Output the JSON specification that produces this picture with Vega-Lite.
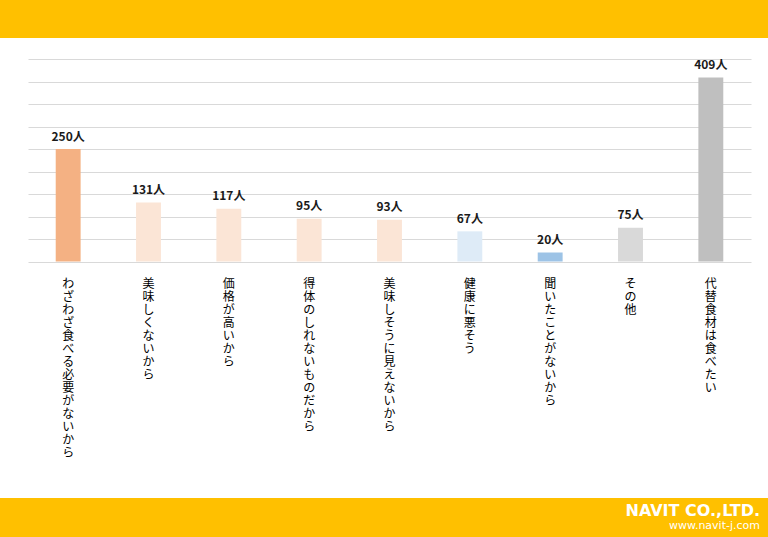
{
  "$schema": "https://vega.github.io/schema/vega-lite/v6.json",
  "background": "white",
  "padding": 0,
  "spacing": 20,
  "config": {
    "view": {"stroke": null},
    "font": "Noto Sans CJK JP"
  },
  "vconcat": [
    {
      "width": 768,
      "height": 38,
      "data": {"values": [{}]},
      "mark": {"type": "rect", "color": "#FFC000"},
      "encoding": {}
    },
    {
      "spacing": 0,
      "hconcat": [
        {
          "width": 28,
          "height": 202.5,
          "data": {"values": [{}]},
          "mark": {"type": "rect", "color": "white", "opacity": 0},
          "encoding": {}
        },
        {
          "width": 723,
          "height": 202.5,
          "data": {
            "values": [
              {"reason": "わざわざ食べる必要がないから", "value": 250},
              {"reason": "美味しくないから", "value": 131},
              {"reason": "価格が高いから", "value": 117},
              {"reason": "得体のしれないものだから", "value": 95},
              {"reason": "美味しそうに見えないから", "value": 93},
              {"reason": "健康に悪そう", "value": 67},
              {"reason": "聞いたことがないから", "value": 20},
              {"reason": "その他", "value": 75},
              {"reason": "代替食材は食べたい", "value": 409}
            ]
          },
          "encoding": {
            "x": {
              "field": "reason",
              "type": "nominal",
              "sort": null,
              "scale": {"paddingInner": 0.69, "paddingOuter": 0.345},
              "axis": {
                "title": null,
                "domain": false,
                "ticks": false,
                "labelAngle": 0,
                "labelExpr": "split(datum.label, '')",
                "labelFont": "Noto Sans CJK JP",
                "labelFontSize": 12,
                "labelLineHeight": 13,
                "labelBaseline": "top",
                "labelPadding": 17,
                "labelColor": "#000000",
                "labelLimit": 0,
                "labelOverlap": false,
                "minExtent": 216.5,
                "maxExtent": 216.5
              }
            },
            "y": {
              "field": "value",
              "type": "quantitative",
              "scale": {"domain": [0, 450], "nice": false},
              "axis": {
                "title": null,
                "labels": false,
                "ticks": false,
                "domain": false,
                "grid": true,
                "gridColor": "#D9D9D9",
                "gridWidth": 1,
                "values": [0, 50, 100, 150, 200, 250, 300, 350, 400, 450],
                "minExtent": 0,
                "maxExtent": 0
              }
            }
          },
          "layer": [
            {
              "mark": {"type": "bar"},
              "encoding": {
                "color": {
                  "field": "reason",
                  "type": "nominal",
                  "legend": null,
                  "scale": {
                    "domain": ["わざわざ食べる必要がないから", "美味しくないから", "価格が高いから", "得体のしれないものだから", "美味しそうに見えないから", "健康に悪そう", "聞いたことがないから", "その他", "代替食材は食べたい"],
                    "range": ["#F4B183", "#FBE5D6", "#FBE5D6", "#FBE5D6", "#FBE5D6", "#DEEBF7", "#9DC3E6", "#D9D9D9", "#BFBFBF"]
                  }
                }
              }
            },
            {
              "mark": {
                "type": "text",
                "text": {"expr": "datum.value + '人'"},
                "baseline": "alphabetic",
                "align": "center",
                "dy": -8.5,
                "fontSize": 12,
                "fontWeight": "bold",
                "color": "#1a1a1a",
                "font": "Noto Sans CJK JP"
              }
            }
          ]
        }
      ]
    },
    {
      "width": 768,
      "height": 40,
      "data": {"values": [{}]},
      "mark": {"type": "rect", "color": "#FFC000"},
      "encoding": {},
      "title": {
        "text": "NAVIT CO.,LTD.",
        "subtitle": "www.navit-j.com",
        "orient": "top",
        "anchor": "end",
        "frame": "group",
        "offset": -33,
        "dx": -8,
        "color": "white",
        "subtitleColor": "white",
        "fontSize": 16,
        "fontWeight": "bold",
        "font": "DejaVu Sans",
        "subtitleFont": "DejaVu Sans",
        "subtitleFontSize": 11,
        "subtitlePadding": 1
      }
    }
  ]
}
